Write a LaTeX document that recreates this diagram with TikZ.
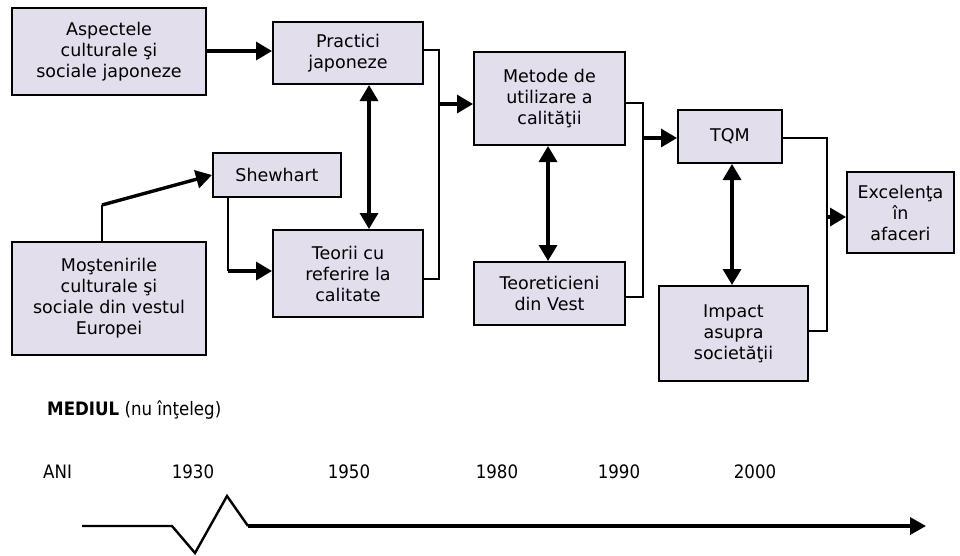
\documentclass[tikz,border=0pt]{standalone}
\usepackage{fontspec}
\setmainfont{DejaVu Sans}
\newfontfamily\axisfont{DejaVu Sans Condensed}
\usetikzlibrary{arrows.meta,calc}

\definecolor{boxfill}{RGB}{226,222,236}

\tikzset{
  box/.style={draw=black, line width=2pt, fill=boxfill, inner sep=0pt,
              align=center, font=\fontsize{17.5}{21}\selectfont},
  thin/.style={draw=black, line width=2pt},
  thick/.style={draw=black, line width=3.4pt},
  tip/.style={-{Triangle[length=16pt,width=18pt]}},
  bitip/.style={{Triangle[length=16pt,width=18pt]}-{Triangle[length=16pt,width=18pt]}},
  axislabel/.style={font=\axisfont\fontsize{18.5}{22}\selectfont, inner sep=0pt}
}

\begin{document}
\begin{tikzpicture}[x=1pt, y=-1pt]
\useasboundingbox[fill=white] (0,0) rectangle (960,555);

% boxes
\node[box, minimum width=194pt, minimum height=87pt]  (asp)  at (109,51.5)   {Aspectele\\culturale şi\\sociale japoneze};
\node[box, minimum width=150pt, minimum height=62pt]  (prac) at (348,53)     {Practici\\japoneze};
\node[box, minimum width=128pt, minimum height=44pt]  (shew) at (277,175)    {Shewhart};
\node[box, minimum width=150pt, minimum height=87pt]  (teor) at (348,273.5)  {Teorii cu\\referire la\\calitate};
\node[box, minimum width=194pt, minimum height=113pt] (most) at (109,298.5)  {Moştenirile\\culturale şi\\sociale din vestul\\Europei};
\node[box, minimum width=151pt, minimum height=93pt]  (met)  at (549.5,98.5) {Metode de\\utilizare a\\calităţii};
\node[box, minimum width=151pt, minimum height=63pt]  (teov) at (549.5,293.5){Teoreticieni\\din Vest};
\node[box, minimum width=104pt, minimum height=53pt]  (tqm)  at (730,136.5)  {TQM};
\node[box, minimum width=149pt, minimum height=95pt]  (imp)  at (733.5,333.5){Impact\\asupra\\societăţii};
\node[box, minimum width=107pt, minimum height=81pt]  (exc)  at (900.5,212.5){Excelenţa\\în\\afaceri};

% junction points of the brackets
\coordinate (b1) at (439,104);
\coordinate (b2) at (643,138);
\coordinate (b3) at (827,217);
\coordinate (mbend) at (102,205);
\coordinate (sbend) at (228,271);

% left part
\draw[thick, tip] (asp.east |- 0,51) -- (prac.west |- 0,51);
\draw[thick, bitip] (prac.south -| 369,0) -- (teor.north -| 369,0);
\draw[thin] (most.north -| mbend) -- (mbend);
\draw[thick, tip] (mbend) -- (shew.west);
\draw[thin] (shew.south -| sbend) -- (sbend);
\draw[thick, tip] (sbend) -- (sbend -| teor.west);

% bracket to the methods box
\draw[thin] (prac.east |- 0,50) -| (b1) |- (teor.east |- 0,279);
\draw[thick, tip] (b1) -- (b1 -| met.west);
\draw[thick, bitip] (met.south -| 548,0) -- (teov.north -| 548,0);

% bracket to TQM
\draw[thin] (met.east |- 0,103) -| (b2) |- (teov.east |- 0,297);
\draw[thick, tip] (b2) -- (b2 -| tqm.west);
\draw[thick, bitip] (tqm.south -| 732,0) -- (imp.north -| 732,0);

% bracket to excellence
\draw[thin] (tqm.east |- 0,138) -| (b3) |- (imp.east |- 0,331);
\draw[thick, tip] (b3) -- (b3 -| exc.west);

% environment and time axis
\node[axislabel, anchor=west] (mediu) at (47,410) {\textbf{MEDIUL} (nu înţeleg)};
\node[axislabel, anchor=west] (ani) at (43,472) {ANI};
\node[axislabel] (y1930) at (193,472) {1930};
\node[axislabel] (y1950) at (349,472) {1950};
\node[axislabel] (y1980) at (497,472) {1980};
\node[axislabel] (y1990) at (619,472) {1990};
\node[axislabel] (y2000) at (755,472) {2000};

\coordinate (t0) at (82,526);
\coordinate (t1) at (172,526);
\coordinate (t2) at (195,553);
\coordinate (t3) at (227,496);
\coordinate (t4) at (248,526);
\coordinate (tend) at (926,526);
\draw[line width=2.4pt, line join=miter] (t0) -- (t1) -- (t2) -- (t3) -- (t4);
\draw[line width=3.6pt, -{Triangle[length=16pt,width=17pt]}] (t4) -- (tend);
\end{tikzpicture}
\end{document}
